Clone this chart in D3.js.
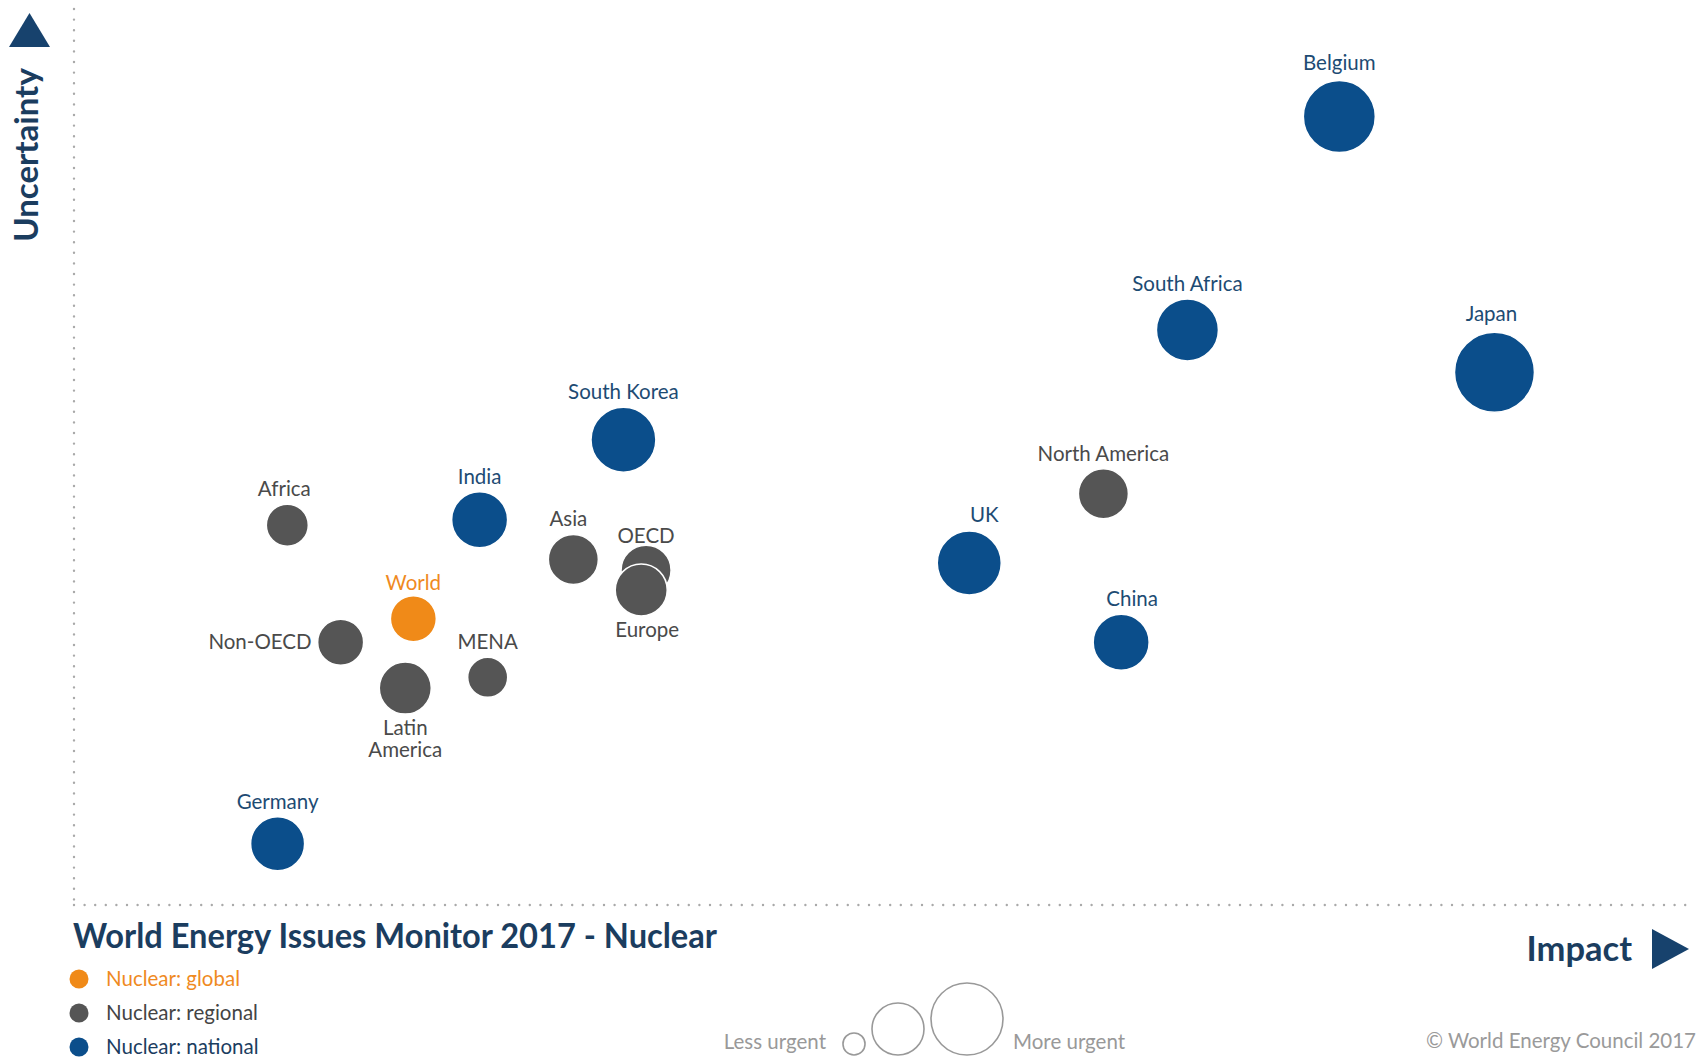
<!DOCTYPE html>
<html>
<head>
<meta charset="utf-8">
<script src="https://cdn.jsdelivr.net/npm/d3@7"></script>
<style>
  body { margin: 0; background: #fff; }
  text { font-family: Lato, "Noto Sans", sans-serif; }
</style>
</head>
<body>
<div id="chart"></div>
<script>
// Issues: impact (x), uncertainty (y), urgency (bubble size), level (colour)
const names = ["Belgium", "South Africa", "Japan", "South Korea", "India", "Africa", "Asia",
  "OECD", "Europe", "World", "Non-OECD", "Latin America", "MENA", "North America", "UK", "China", "Germany"];
const impact      = [78.3, 68.9, 87.9, 34.0, 25.1, 13.2, 30.9, 35.4, 35.1, 21.0, 16.5, 20.5, 25.6, 63.7, 55.4, 64.8, 12.6];
const uncertainty = [87.6, 63.9, 59.2, 51.7, 42.8, 42.2, 38.4, 37.2, 35.0, 31.8, 29.2, 24.1, 25.3, 45.7, 38.0, 29.2, 6.8];
const urgency     = [64, 47.5, 79, 52, 38.7, 21.8, 30.9, 30.9, 33.4, 26.1, 26.1, 33.4, 19.8, 30.9, 50.6, 38.7, 36];
const level = ["national", "national", "national", "national", "national", "regional", "regional",
  "regional", "regional", "global", "regional", "regional", "regional", "regional", "national", "national", "national"];

const legendLevels = ["global", "regional", "national"];
const legendLabels = ["Nuclear: global", "Nuclear: regional", "Nuclear: national"];
const sizeKeys = [6, 33.4, 64];

const bubbleColor = { global: "#f08a18", regional: "#555555", national: "#0b4e8b" };
const labelColor = { global: "#ef8a1f", regional: "#4a4a4a", national: "#1d4b73" };
const navy = "#1b3d5f";

// label placement tweaks (default: centred above the bubble)
const labelPlace = {
  "Belgium": { gap: 11 }, "Japan": { gap: 11, dx: -3 }, "Africa": { dx: -3 },
  "Asia": { dx: -5 }, "OECD": { gap: 2 }, "World": { gap: 6 },
  "UK": { dx: 15, gap: 9 }, "China": { dx: 11 },
  "Non-OECD": { side: "left" }, "Europe": { side: "bottom", dx: 6 },
  "Latin America": { side: "bottom", lines: ["Latin", "America"] }
};

const width = 1704, height = 1057;
const svg = d3.select("#chart").append("svg").attr("width", width).attr("height", height);

const x = d3.scaleLinear().domain([0, 100]).range([74, 1690]);
const y = d3.scaleLinear().domain([0, 100]).range([905, 5]);
const r = d3.scaleSqrt().domain([0, 100]).range([0, 45]);

// dotted axes
svg.append("line").attr("x1", 74).attr("x2", 74).attr("y1", 9).attr("y2", 905)
  .attr("stroke", "#a9a9a9").attr("stroke-width", 2.4).attr("stroke-linecap", "round")
  .attr("stroke-dasharray", "0 10.6");
svg.append("line").attr("x1", 74).attr("x2", 1690).attr("y1", 905).attr("y2", 905)
  .attr("stroke", "#a9a9a9").attr("stroke-width", 2.4).attr("stroke-linecap", "round")
  .attr("stroke-dasharray", "0 10.6");

// axis arrows and titles
svg.append("path").attr("d", "M9,47 L29.5,13 L50,47 Z").attr("fill", "#17426d");
svg.append("path").attr("d", "M1652,929 L1689,949 L1652,969 Z").attr("fill", "#17426d");
svg.append("text").attr("transform", "translate(38,155) rotate(-90)")
  .attr("text-anchor", "middle").attr("font-size", 33).attr("font-weight", 700)
  .attr("fill", navy).text("Uncertainty");
svg.append("text").attr("x", 1632).attr("y", 961).attr("text-anchor", "end")
  .attr("font-size", 34.5).attr("font-weight", 700).attr("fill", navy).text("Impact");

// bubbles
const data = names.map((n, i) => ({ name: n, impact: impact[i], uncertainty: uncertainty[i], urgency: urgency[i], level: level[i] }));

svg.append("g").selectAll("circle").data(data).join("circle")
  .attr("cx", d => x(d.impact))
  .attr("cy", d => y(d.uncertainty))
  .attr("r", d => r(d.urgency))
  .attr("fill", d => bubbleColor[d.level])
  .attr("stroke", "#fff").attr("stroke-width", 1.5);

const labels = svg.append("g").attr("font-size", 20.5);
data.forEach(d => {
  const p = labelPlace[d.name] || {};
  const cx = x(d.impact), cy = y(d.uncertainty), rr = r(d.urgency);
  const t = labels.append("text").attr("fill", labelColor[d.level]);
  if (p.side === "left") {
    t.attr("x", cx - rr - 6).attr("y", cy + 7).attr("text-anchor", "end").text(d.name);
  } else if (p.side === "bottom") {
    const lines = p.lines || [d.name];
    t.attr("text-anchor", "middle");
    lines.forEach((l, i) => {
      t.append("tspan").attr("x", cx + (p.dx || 0)).attr("y", cy + rr + 21 + i * 22).text(l);
    });
  } else {
    t.attr("x", cx + (p.dx || 0)).attr("y", cy - rr - (p.gap != null ? p.gap : 8))
      .attr("text-anchor", "middle").text(d.name);
  }
});

// title
svg.append("text").attr("x", 73).attr("y", 948).attr("font-size", 34).attr("font-weight", 700)
  .attr("fill", navy).attr("textLength", 644).attr("lengthAdjust", "spacingAndGlyphs")
  .text("World Energy Issues Monitor 2017 - Nuclear");

// colour legend
const leg = svg.append("g").selectAll("g").data(legendLevels).join("g")
  .attr("transform", (d, i) => `translate(79,${979 + i * 34})`);
leg.append("circle").attr("r", 9.5).attr("fill", d => bubbleColor[d]);
leg.append("text").attr("x", 27).attr("y", 7).attr("font-size", 20.5)
  .attr("fill", (d, i) => i === 0 ? labelColor.global : (i === 1 ? "#444" : navy))
  .text((d, i) => legendLabels[i]);

// size legend
const sizeCx = [854, 898, 967];
const baseY = 1055;
svg.append("g").selectAll("circle").data(sizeKeys).join("circle")
  .attr("cx", (d, i) => sizeCx[i])
  .attr("cy", d => baseY - r(d))
  .attr("r", d => r(d))
  .attr("fill", "none").attr("stroke", "#999").attr("stroke-width", 1.6);
svg.append("text").attr("x", 826).attr("y", 1049).attr("text-anchor", "end")
  .attr("font-size", 20.5).attr("fill", "#999").text("Less urgent");
svg.append("text").attr("x", 1013).attr("y", 1049)
  .attr("font-size", 20.5).attr("fill", "#999").text("More urgent");

svg.append("text").attr("x", 1696).attr("y", 1048).attr("text-anchor", "end")
  .attr("font-size", 20.5).attr("fill", "#9a9a9a").text("© World Energy Council 2017");
</script>
</body>
</html>
